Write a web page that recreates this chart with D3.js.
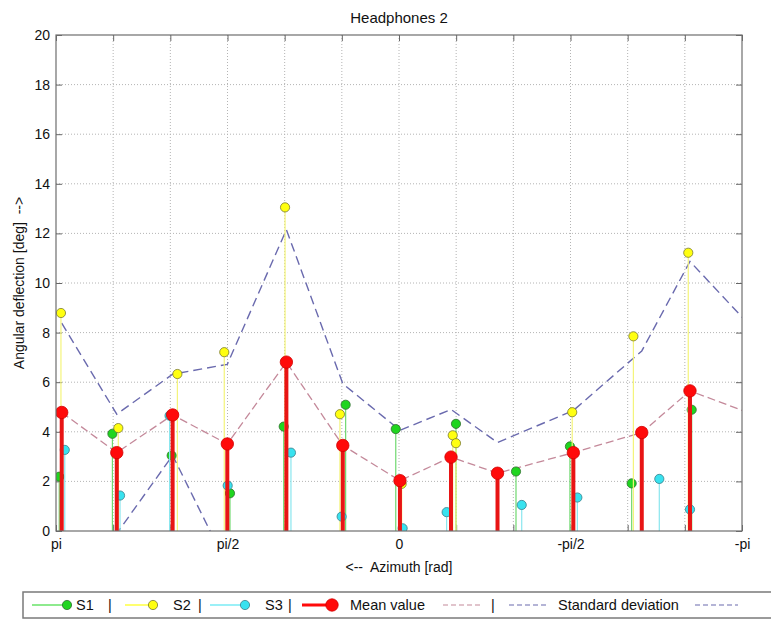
<!DOCTYPE html>
<html>
<head>
<meta charset="utf-8">
<script src="https://cdn.jsdelivr.net/npm/d3@7"></script>
<style>
  html, body { margin: 0; padding: 0; background: #fff; }
  svg { display: block; font-family: "Liberation Sans", Arial, Helvetica, sans-serif; }
</style>
</head>
<body>
<svg id="chart" width="771" height="619"></svg>
<script>
// ---------- data (azimuths in degrees, values in deg of angular deflection) ----------
const title = "Headphones 2";
const yLabel = "Angular deflection [deg]  -->";
const xLabel = "<--  Azimuth [rad]";

const xTickValues = [180, 150, 120, 90, 60, 30, 0, -30, -60, -90, -120, -150, -180];
const xTickLabels = ["pi", "", "", "pi/2", "", "", "0", "", "", "-pi/2", "", "", "-pi"];
const yTickValues = [0, 2, 4, 6, 8, 10, 12, 14, 16, 18, 20];

const s1Az  = [178.3, 150.4, 119.3, 88.7, 60.5, 28.0, 1.7, -29.9, -61.4, -89.7, -122.1, -153.6];
const s1Val = [2.19, 3.92, 3.04, 1.52, 4.21, 5.09, 4.11, 4.32, 2.40, 3.41, 1.92, 4.89];

const s2Az  = [177.4, 147.3, 116.3, 91.7, 59.8, 31.0, -1.4, -28.2, -29.9, -90.9, -123.0, -151.8];
const s2Val = [8.79, 4.15, 6.33, 7.21, 13.05, 4.71, 1.90, 3.86, 3.54, 4.79, 7.85, 11.22];

const s3Az  = [175.4, 146.4, 120.4, 89.9, 56.7, 30.1, -1.9, -25.0, -64.4, -93.6, -136.6, -152.7];
const s3Val = [3.27, 1.43, 4.65, 1.83, 3.16, 0.58, 0.11, 0.76, 1.05, 1.35, 2.10, 0.87];

const meanAz  = [177.0, 148.1, 118.8, 90.1, 59.1, 29.5, -0.5, -27.3, -51.7, -91.5, -127.4, -152.7];
const meanVal = [4.78, 3.16, 4.68, 3.51, 6.81, 3.45, 2.03, 2.98, 2.33, 3.16, 3.97, 5.65];
const stdUpper = [8.38, 4.71, 6.32, 6.72, 12.15, 5.94, 4.06, 4.90, 3.57, 4.86, 7.26, 10.87];
const stdLower = [-2.0, -0.1, 3.05, -1.4, -4.6, -0.8, -0.1, -1.9, -1.2, -1.0, -0.8, -4.2];

const legendLabels = ["S1", "S2", "S3", "Mean value", "Standard deviation"];

// ---------- layout ----------
const svg = d3.select("#chart");
const L = 56, R = 742, T = 35, B = 531;
const rad = d => d * Math.PI / 180;

const x = d3.scaleLinear().domain([Math.PI, -Math.PI]).range([L, R]);
const y = d3.scaleLinear().domain([0, 20]).range([B, T]);

const colors = {
  s1: {fill: "#1fd51f", stroke: "#2f6f2f", stem: "#6fd86f"},
  s2: {fill: "#ffff10", stroke: "#7a7a30", stem: "#f4f47a"},
  s3: {fill: "#38e2ef", stroke: "#3a7f8a", stem: "#8ae6ee"},
  mean: {fill: "#ff0a0a", stroke: "#d00000", stem: "#e81414"},
  meanLine: "#c4899a",
  stdLine: "#6a6aae"
};

svg.append("defs").append("clipPath").attr("id", "plotclip")
  .append("rect").attr("x", L).attr("y", T).attr("width", R - L).attr("height", B - T);

// grid
const grid = svg.append("g");
grid.selectAll("line.gx").data(xTickValues.slice(1, -1)).join("line")
  .attr("x1", d => x(rad(d))).attr("x2", d => x(rad(d)))
  .attr("y1", T).attr("y2", B)
  .attr("stroke", "#b4b4b4").attr("stroke-width", 1).attr("stroke-dasharray", "1,2");
grid.selectAll("line.gy").data(yTickValues.slice(1, -1)).join("line")
  .attr("x1", L).attr("x2", R)
  .attr("y1", d => y(d)).attr("y2", d => y(d))
  .attr("stroke", "#b4b4b4").attr("stroke-width", 1).attr("stroke-dasharray", "1,2");

// axes
const tickLen = 6;
const axisFont = g => g.selectAll("text").attr("font-size", 14).attr("fill", "#111")
  .attr("font-family", "Liberation Sans, Arial, sans-serif");
const axisStroke = g => { g.select(".domain").remove(); g.selectAll(".tick line").attr("stroke", "#666"); };

svg.append("g").attr("transform", `translate(0,${B})`)
  .call(d3.axisBottom(x).tickValues(xTickValues.map(rad)).tickFormat((d, i) => xTickLabels[i])
    .tickSizeInner(-tickLen).tickSizeOuter(0).tickPadding(8))
  .call(axisStroke).call(axisFont);
svg.append("g").attr("transform", `translate(0,${T})`)
  .call(d3.axisTop(x).tickValues(xTickValues.map(rad)).tickFormat("")
    .tickSizeInner(-tickLen).tickSizeOuter(0))
  .call(axisStroke);
svg.append("g").attr("transform", `translate(${L},0)`)
  .call(d3.axisLeft(y).tickValues(yTickValues).tickFormat(d3.format("d"))
    .tickSizeInner(-tickLen).tickSizeOuter(0).tickPadding(6))
  .call(axisStroke).call(axisFont);
svg.append("g").attr("transform", `translate(${R},0)`)
  .call(d3.axisRight(y).tickValues(yTickValues).tickFormat("")
    .tickSizeInner(-tickLen).tickSizeOuter(0))
  .call(axisStroke);

// plot content
const plot = svg.append("g").attr("clip-path", "url(#plotclip)");

// dashed summary lines (wrap the first point around to -pi side)
const lineGen = d3.line().x(d => x(rad(d[0]))).y(d => y(d[1]));
function wrapped(az, vals) {
  const pts = az.map((a, i) => [a, vals[i]]);
  pts.push([az[0] - 360, vals[0]]);
  return pts;
}
plot.append("path").attr("d", lineGen(wrapped(meanAz, meanVal)))
  .attr("fill", "none").attr("stroke", colors.meanLine).attr("stroke-width", 1.3)
  .attr("stroke-dasharray", "8,4");
plot.append("path").attr("d", lineGen(wrapped(meanAz, stdUpper)))
  .attr("fill", "none").attr("stroke", colors.stdLine).attr("stroke-width", 1.4)
  .attr("stroke-dasharray", "9,5");
plot.append("path").attr("d", lineGen(wrapped(meanAz, stdLower)))
  .attr("fill", "none").attr("stroke", colors.stdLine).attr("stroke-width", 1.4)
  .attr("stroke-dasharray", "9,5");

function stems(az, vals, c, stemW, r) {
  const g = plot.append("g");
  const data = az.map((a, i) => ({a, v: vals[i]}));
  g.selectAll("line").data(data).join("line")
    .attr("x1", d => x(rad(d.a))).attr("x2", d => x(rad(d.a)))
    .attr("y1", y(0)).attr("y2", d => y(d.v))
    .attr("stroke", c.stem).attr("stroke-width", stemW);
  g.selectAll("circle").data(data).join("circle")
    .attr("cx", d => x(rad(d.a))).attr("cy", d => y(d.v)).attr("r", r)
    .attr("fill", c.fill).attr("stroke", c.stroke).attr("stroke-width", 0.8);
}
stems(s1Az, s1Val, colors.s1, 1.2, 4.6);
stems(s2Az, s2Val, colors.s2, 1.2, 4.6);
stems(s3Az, s3Val, colors.s3, 1.2, 4.6);
stems(meanAz, meanVal, colors.mean, 4, 6.2);

// frame
svg.append("rect").attr("x", L).attr("y", T).attr("width", R - L).attr("height", B - T)
  .attr("fill", "none").attr("stroke", "#6e6e6e").attr("stroke-width", 1.2);

// title & labels
svg.append("text").attr("x", 399).attr("y", 23).attr("text-anchor", "middle")
  .attr("font-size", 15).attr("fill", "#111").text(title);
svg.append("text").attr("x", 399).attr("y", 572).attr("text-anchor", "middle")
  .attr("font-size", 14).attr("fill", "#111").style("white-space", "pre").text(xLabel);
svg.append("text").attr("transform", `translate(24,${(T + B) / 2}) rotate(-90)`)
  .attr("text-anchor", "middle").attr("font-size", 14).attr("fill", "#111")
  .style("white-space", "pre").text(yLabel);

// legend
const lg = svg.append("g");
lg.append("rect").attr("x", 23).attr("y", 592).attr("width", 800).attr("height", 26)
  .attr("fill", "#fff").attr("stroke", "#7a7a7a").attr("stroke-width", 1.5);
const ly = 605, lty = 610, lfs = 14.5;
const items = [
  {c: colors.s1, x0: 32, x1: 67, tx: 76, sep: 108, w: 1.2, r: 4.6},
  {c: colors.s2, x0: 125, x1: 153, tx: 173, sep: 198, w: 1.2, r: 4.6},
  {c: colors.s3, x0: 210, x1: 245, tx: 265, sep: 288, w: 1.2, r: 4.6},
  {c: colors.mean, x0: 302, x1: 332, tx: 350, sep: null, w: 3, r: 6.2}
];
items.forEach((it, i) => {
  lg.append("line").attr("x1", it.x0).attr("x2", it.x1).attr("y1", ly).attr("y2", ly)
    .attr("stroke", it.c.fill).attr("stroke-width", it.w);
  lg.append("circle").attr("cx", it.x1).attr("cy", ly).attr("r", it.r)
    .attr("fill", it.c.fill).attr("stroke", it.c.stroke).attr("stroke-width", 0.8);
  lg.append("text").attr("x", it.tx).attr("y", lty).attr("font-size", lfs).attr("fill", "#111").text(legendLabels[i]);
  if (it.sep !== null) lg.append("text").attr("x", it.sep).attr("y", lty).attr("font-size", lfs).attr("fill", "#111").text("|");
});
const dashSeg = (x0, x1, col) => lg.append("line").attr("x1", x0).attr("x2", x1).attr("y1", ly).attr("y2", ly)
  .attr("stroke", col).attr("stroke-width", 1.2).attr("stroke-dasharray", "5,3");
dashSeg(443, 481, colors.meanLine);
lg.append("text").attr("x", 491).attr("y", lty).attr("font-size", lfs).attr("fill", "#111").text("|");
dashSeg(509, 548, colors.stdLine);
lg.append("text").attr("x", 558).attr("y", lty).attr("font-size", lfs).attr("fill", "#111").text(legendLabels[4]);
dashSeg(695, 738, colors.stdLine);
</script>
</body>
</html>
